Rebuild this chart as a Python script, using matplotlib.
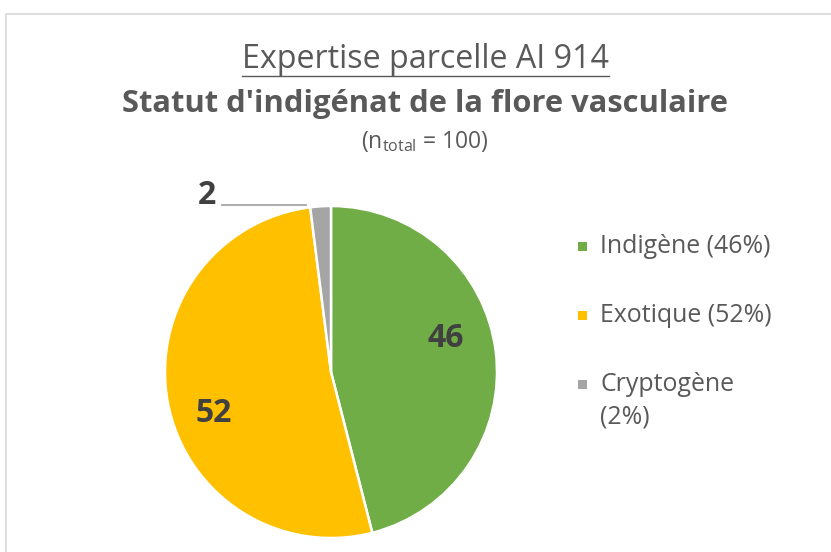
import matplotlib
matplotlib.use("Agg")
import matplotlib.pyplot as plt
from matplotlib.patches import Rectangle
from matplotlib.lines import Line2D

categories = ["Indigène", "Exotique", "Cryptogène"]
values = [46, 52, 2]
colors = ["#70AD47", "#FFC000", "#A5A5A5"]
legend_labels = ["Indigène (46%)", "Exotique (52%)", "Cryptogène\n(2%)"]
title1 = "Expertise parcelle AI 914"
title2 = "Statut d'indigénat de la flore vasculaire"
n_total = 100

FONT = "Open Sans"
plt.rcParams["font.family"] = [FONT, "DejaVu Sans"]
W, H = 831, 552
fig = plt.figure(figsize=(W / 100, H / 100), dpi=100)

def fx(px):
    return px / W

def fy(py):
    return 1 - py / H

# chart frame
fig.add_artist(Rectangle((fx(5.5), fy(560)), fx(840), fy(13.5) - fy(560), transform=fig.transFigure,
                         fill=False, edgecolor="#D9D9D9", linewidth=1.2))

# pie
cx, cy, r = 331, 372, 166
ax = fig.add_axes([fx(cx - r), fy(cy + r), fx(2 * r), fy(cy - r) - fy(cy + r)])
wedges, _ = ax.pie(values, colors=colors, startangle=90, counterclock=False, radius=1,
                   wedgeprops=dict(edgecolor="white", linewidth=1.8))
ax.set_xlim(-1, 1)
ax.set_ylim(-1, 1)
ax.set_aspect("equal")
ax.axis("off")

label_pos = [(0.690, 0.200), (-0.708, -0.253), (-0.747, 1.066)]
for v, (x, y) in zip(values, label_pos):
    ax.text(x, y, str(v), ha="center", va="center", fontsize=23, fontweight="bold",
            color="#404040", clip_on=False)
ax.add_line(Line2D([-0.657, -0.151], [1.006, 1.006], color="#A6A6A6", linewidth=1.3, clip_on=False))

# titles
t1 = fig.text(fx(425.5), fy(59), title1, ha="center", va="center", fontsize=23.2, color="#595959")
fig.text(fx(425), fy(104), title2, ha="center", va="center", fontsize=22.2, fontweight="bold",
         color="#595959")
fig.text(fx(425), fy(141), r"($\mathregular{n_{total}}$ = " + str(n_total) + ")", ha="center",
         va="center", fontsize=16.5, color="#595959")

fig.canvas.draw()
bb = t1.get_window_extent().transformed(fig.transFigure.inverted())
fig.add_artist(Line2D([bb.x0, bb.x1], [fy(75.5), fy(75.5)], transform=fig.transFigure,
                      color="#595959", linewidth=1.0))

# legend
rows = [246.5, 315.5, 384.5]
for lab, col, ry in zip(legend_labels, colors, rows):
    fig.add_artist(Rectangle((fx(578), fy(ry + 4.5)), fx(9), fy(ry - 4.5) - fy(ry + 4.5),
                             transform=fig.transFigure, facecolor=col, edgecolor="none"))
    lines = lab.split("\n")
    for i, ln in enumerate(lines):
        fig.text(fx(600), fy(ry + i * 32), ln, ha="left", va="center",
                 fontsize=17.9, color="#595959")

fig.savefig("out.png", dpi=100)
